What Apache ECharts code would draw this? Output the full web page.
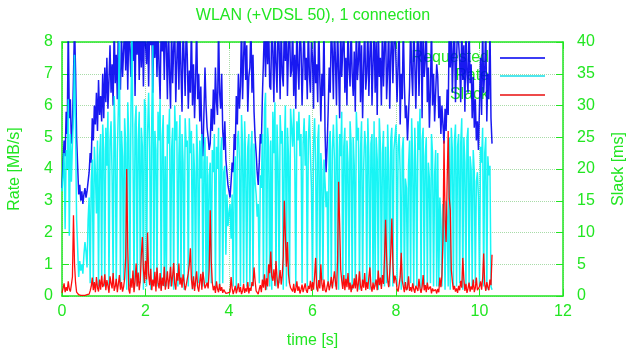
<!DOCTYPE html>
<html lang="en">

<head>
    <meta charset="UTF-8">
    <title>WLAN (+VDSL 50), 1 connection</title>
    <script src="https://cdn.jsdelivr.net/npm/echarts@6/dist/echarts.min.js"></script>
    <style>
        html, body { margin: 0; padding: 0; background: #fff; }
        #chart { width: 626px; height: 350px; }
    </style>
</head>

<body>
    <div id="chart"></div>
    <script>
        // one sample every 0.025 s, starting at t = 0 (one row = 0.5 s)
        var sampleStep = 0.025;

        // Requested rate [MB/s]
        var requested = [
            3.4, 4.2, 4.9, 4.4, 5.8, 5.1, 8.6, 5.6, 6.2, 4.8, 5.3, 6.9, 8.6, 7.1, 5.0, 4.1, 3.2, 3.5, 3.0, 3.3,
            2.9, 3.2, 3.4, 3.1, 3.3, 3.6, 3.9, 4.5, 4.2, 5.6, 4.9, 6.0, 5.4, 6.4, 5.2, 6.8, 5.7, 6.3, 5.5, 7.0,
            5.6, 7.2, 6.1, 7.5, 5.9, 6.8, 7.9, 6.4, 7.3, 6.0, 8.6, 6.7, 7.6, 6.2, 8.6, 7.0, 6.5, 8.3, 6.9, 7.7,
            8.6, 7.1, 8.6, 6.5, 8.6, 7.8, 6.9, 8.6, 7.4, 8.6, 6.3, 8.6, 7.6, 8.6, 6.8, 8.6, 7.2, 8.6, 6.6, 8.6,
            8.6, 7.3, 8.6, 6.6, 8.6, 7.9, 8.6, 6.4, 8.6, 7.5, 8.6, 6.9, 8.6, 7.2, 6.2, 8.6, 7.7, 8.6, 6.8, 8.6,
            7.9, 6.2, 8.6, 7.0, 5.9, 8.6, 6.7, 7.8, 8.6, 6.1, 7.4, 8.6, 6.5, 8.6, 7.1, 5.8, 8.6, 7.5, 6.3, 8.6,
            7.6, 5.9, 7.1, 6.4, 8.6, 6.0, 7.3, 5.6, 6.8, 8.6, 6.2, 7.0, 5.5, 6.6, 5.1, 4.4, 5.8, 7.2, 6.0, 5.3,
            5.0, 4.6, 4.8, 5.9, 5.2, 6.5, 5.4, 7.2, 6.1, 5.7, 8.6, 6.4, 5.9, 7.0, 5.2, 4.6, 5.5, 4.3, 3.9, 3.5,
            3.3, 3.1, 3.6, 4.2, 3.9, 5.1, 4.6, 6.3, 5.4, 7.0, 5.9, 6.6, 8.6, 6.2, 7.5, 8.6, 6.8, 7.9, 5.8, 6.9,
            7.2, 8.6, 6.4, 7.6, 5.8, 5.0, 4.5, 3.9, 3.5, 4.2, 5.1, 4.8, 6.3, 7.4, 8.6, 6.9, 8.6, 7.3, 8.6, 6.6,
            6.5, 8.6, 7.7, 6.1, 8.6, 7.3, 6.4, 8.6, 7.9, 6.2, 8.6, 7.0, 6.6, 8.6, 7.4, 8.6, 6.3, 7.8, 8.6, 6.9,
            7.1, 8.6, 6.3, 7.6, 5.9, 8.6, 7.2, 6.5, 8.6, 7.8, 6.0, 7.4, 8.6, 6.8, 7.5, 6.2, 8.6, 7.0, 6.4, 8.0,
            7.5, 5.9, 8.6, 6.7, 7.3, 6.1, 8.6, 6.9, 5.5, 7.0, 6.3, 8.6, 5.2, 3.9, 4.7, 5.8, 7.2, 6.4, 8.6, 7.7,
            6.2, 8.6, 7.4, 6.0, 8.6, 7.1, 5.6, 8.6, 6.9, 7.8, 8.6, 6.4, 7.5, 6.0, 8.6, 7.2, 6.6, 8.6, 7.0, 6.3,
            7.7, 5.8, 8.6, 6.8, 7.4, 8.6, 6.1, 7.9, 5.6, 7.2, 8.6, 6.5, 7.0, 8.6, 6.3, 7.6, 8.6, 6.0, 7.3, 8.6,
            6.4, 8.0, 5.7, 8.6, 6.9, 7.5, 6.0, 8.6, 6.6, 7.8, 8.6, 6.2, 7.1, 8.6, 5.9, 7.6, 8.6, 6.7, 7.9, 8.6,
            8.6, 6.1, 7.3, 8.6, 5.4, 7.0, 6.2, 8.6, 6.7, 5.6, 6.0, 4.9, 5.7, 6.6, 8.6, 7.1, 6.3, 8.6, 7.4, 5.9,
            7.6, 8.6, 6.3, 7.8, 8.6, 5.6, 8.6, 6.9, 7.4, 8.6, 6.1, 7.2, 5.3, 6.5, 8.6, 6.0, 7.0, 5.5, 6.4, 7.3,
            6.9, 5.6, 6.3, 5.1, 6.0, 5.4, 4.8, 5.9, 5.2, 6.5, 5.7, 8.6, 7.2, 8.6, 6.4, 7.7, 8.6, 6.1, 7.4, 8.6,
            8.6, 7.4, 6.1, 8.6, 6.8, 7.9, 5.8, 8.6, 7.0, 6.4, 8.6, 6.7, 7.3, 5.6, 6.9, 5.3, 6.2, 4.9, 5.5, 4.6,
            6.0, 7.5, 5.7, 8.6, 6.4, 7.1, 8.6, 5.5, 7.0, 6.2, 8.6, 5.6, 4.8
        ];

        // achieved rate [MB/s]
        var rate = [
            3.3, 3.8, 4.5, 2.1, 4.6, 4.0, 6.2, 1.9, 5.1, 3.6, 4.8, 5.7, 7.6, 5.2, 2.4, 1.5, 0.6, 1.1, 0.8, 1.0,
            0.7, 1.3, 1.7, 1.4, 0.9, 2.4, 3.1, 0.4, 3.6, 4.3, 0.3, 4.7, 3.9, 2.6, 4.9, 0.3, 4.4, 5.1, 0.5, 5.4,
            4.6, 0.3, 5.3, 4.1, 5.8, 0.2, 4.9, 5.5, 3.8, 0.4, 6.3, 5.0, 0.3, 4.5, 5.9, 8.6, 0.3, 5.2, 4.4, 0.5,
            5.6, 4.8, 0.2, 6.1, 5.0, 0.3, 5.7, 8.6, 4.6, 0.2, 5.4, 6.0, 0.3, 4.9, 5.8, 0.4, 5.3, 4.7, 0.2, 6.2,
            5.9, 0.3, 5.1, 6.4, 4.7, 0.2, 5.6, 7.9, 0.4, 5.2, 4.6, 0.3, 5.8, 4.9, 6.2, 0.2, 5.0, 5.7, 0.3, 4.4,
            0.3, 5.4, 4.8, 5.9, 0.3, 4.6, 5.3, 0.2, 6.0, 4.9, 5.5, 0.3, 4.4, 5.7, 0.4, 5.1, 4.2, 0.2, 5.6, 4.7,
            4.9, 0.3, 5.6, 4.5, 5.2, 0.2, 4.8, 3.9, 0.3, 5.4, 4.3, 0.4, 4.9, 3.7, 5.1, 0.3, 4.2, 5.0, 0.4, 4.4,
            0.3, 3.8, 4.2, 0.4, 4.6, 3.9, 5.1, 0.3, 4.7, 4.0, 5.3, 0.2, 4.5, 5.0, 0.4, 3.9, 4.1, 1.3, 3.2, 2.2,
            2.6, 2.9, 1.8, 3.2, 0.3, 3.9, 4.4, 0.2, 4.9, 5.2, 4.3, 0.3, 5.7, 4.8, 0.4, 5.5, 4.2, 0.3, 4.7, 5.1,
            0.3, 4.6, 5.2, 0.3, 4.8, 3.6, 3.2, 2.5, 2.9, 0.4, 3.8, 3.4, 5.1, 0.3, 5.9, 6.4, 0.2, 5.3, 4.7, 0.3,
            4.9, 0.2, 5.8, 4.5, 6.1, 0.3, 5.4, 4.2, 0.4, 5.7, 4.8, 5.2, 0.2, 4.6, 6.0, 0.3, 5.3, 4.4, 0.4, 5.9,
            5.3, 4.7, 5.9, 4.3, 0.3, 5.5, 4.9, 5.8, 4.4, 5.1, 0.4, 4.8, 5.6, 4.1, 5.2, 0.3, 4.9, 5.7, 4.5, 3.4,
            0.3, 4.8, 5.6, 4.2, 0.2, 4.9, 5.4, 0.3, 4.5, 3.9, 0.5, 4.3, 3.6, 2.8, 3.3, 0.3, 4.9, 5.2, 0.3, 4.6,
            5.4, 4.3, 0.3, 5.7, 4.6, 0.2, 5.1, 4.4, 5.8, 0.3, 4.7, 5.3, 0.4, 4.9, 4.2, 0.3, 5.5, 4.8, 0.2, 5.0,
            4.1, 0.3, 5.8, 4.9, 5.3, 0.2, 4.6, 5.5, 0.3, 4.0, 5.2, 4.7, 0.3, 5.6, 4.4, 0.2, 4.8, 5.1, 0.4, 5.5,
            0.3, 5.0, 4.3, 0.2, 5.6, 4.8, 0.3, 4.5, 5.2, 0.3, 4.7, 0.4, 5.4, 4.1, 0.3, 4.9, 5.3, 0.3, 4.6, 5.0,
            5.4, 0.3, 4.7, 5.1, 3.9, 0.2, 4.6, 5.0, 0.3, 3.7, 3.4, 0.2, 4.1, 4.9, 0.4, 5.6, 4.2, 0.3, 5.3, 4.0,
            0.3, 5.5, 4.6, 5.9, 0.2, 4.9, 5.3, 0.3, 4.4, 5.0, 0.3, 4.2, 3.7, 0.4, 5.1, 4.5, 0.3, 3.8, 4.6, 0.3,
            4.5, 0.3, 3.1, 2.4, 0.3, 2.9, 2.2, 0.2, 3.0, 2.5, 0.3, 5.0, 0.2, 5.3, 4.6, 0.3, 4.9, 5.4, 0.3, 4.7,
            5.1, 0.4, 4.8, 5.6, 0.2, 5.0, 4.2, 0.3, 4.9, 5.3, 0.3, 4.4, 4.0, 0.3, 4.6, 3.9, 0.4, 3.6, 3.9, 3.1,
            0.3, 4.7, 4.2, 5.3, 0.3, 4.5, 5.0, 0.2, 4.4, 3.8, 4.1, 0.3, 0.2
        ];

        // slack [ms], right axis
        var slack = [
            0.5, 1.2, 2.0, 0.6, 1.4, 0.8, 2.3, 1.1, 0.7, 1.8, 3.0, 12.7, 5.0, 2.1, 0.6, 0.3, 0.2, 0.2, 0.1, 0.2,
            0.1, 0.1, 0.1, 0.1, 0.2, 0.1, 0.3, 0.8, 1.5, 2.9, 0.9, 2.2, 0.6, 3.0, 1.3, 0.7, 2.6, 1.0, 3.2, 1.4,
            1.8, 3.4, 0.9, 2.5, 1.6, 0.5, 3.1, 2.0, 1.2, 3.6, 0.8, 1.5, 2.7, 0.6, 1.9, 3.3, 1.0, 2.2, 0.7, 1.4,
            2.7, 6.0, 20.0, 7.5, 1.0, 0.4, 2.8, 1.3, 4.0, 0.6, 2.2, 5.1, 1.5, 3.7, 0.9, 2.5, 6.5, 9.3, 4.2, 2.0,
            5.5, 2.6, 10.0, 3.4, 1.7, 4.3, 0.9, 2.6, 1.5, 3.8, 0.7, 4.5, 2.1, 1.2, 3.6, 0.8, 2.9, 1.6, 4.6, 1.0,
            2.3, 3.9, 1.1, 2.7, 4.6, 1.5, 3.2, 5.2, 2.0, 1.0, 3.6, 2.4, 5.1, 1.8, 2.9, 1.3, 3.4, 2.2, 0.9, 1.7,
            1.8, 3.6, 5.0, 7.5, 2.6, 1.1, 3.1, 0.8, 2.4, 3.9, 1.4, 0.7, 2.2, 3.5, 1.0, 3.8, 2.5, 1.2, 0.9, 2.1,
            1.2, 4.0, 13.5, 5.5, 2.1, 0.9, 1.6, 0.5, 2.3, 1.1, 0.6, 1.9, 0.8, 1.4, 0.5, 1.0, 0.7, 0.4, 0.3, 0.5,
            0.4, 0.6, 3.0, 1.2, 0.3, 0.9, 1.6, 0.4, 1.1, 2.0, 0.6, 1.4, 0.3, 0.8, 1.9, 0.5, 1.2, 0.7, 2.2, 0.4,
            1.3, 0.8, 2.2, 1.6, 4.5, 2.4, 0.8, 0.5, 0.3, 1.1, 1.7, 0.6, 2.6, 1.3, 3.4, 0.9, 2.8, 1.5, 5.0, 3.6,
            7.0, 3.1, 2.4, 4.2, 1.6, 5.5, 3.0, 1.2, 2.7, 4.1, 1.8, 3.3, 6.2, 15.0, 9.5, 4.6, 8.5, 3.4, 2.0, 1.3,
            1.4, 0.7, 1.9, 0.5, 1.1, 2.3, 0.8, 1.5, 0.4, 1.0, 1.8, 0.6, 1.3, 2.0, 0.9, 0.5, 1.6, 1.1, 2.4, 0.8,
            2.2, 1.0, 3.1, 6.0, 1.4, 0.7, 2.5, 1.2, 5.0, 1.9, 0.8, 2.6, 1.0, 0.6, 1.5, 2.3, 0.9, 1.7, 3.0, 1.2,
            1.5, 3.9, 2.2, 1.0, 5.5, 18.0, 11.5, 4.2, 2.4, 1.1, 3.3, 0.9, 2.7, 1.4, 3.6, 1.0, 2.1, 0.6, 1.8, 1.2,
            2.8, 1.2, 3.4, 0.7, 2.0, 3.9, 1.5, 0.8, 2.6, 1.3, 3.6, 0.9, 2.2, 1.1, 3.0, 4.5, 1.6, 0.7, 2.1, 1.0,
            1.3, 2.6, 0.9, 4.0, 1.7, 2.9, 1.1, 3.3, 1.9, 6.0, 12.0, 6.2, 2.5, 1.4, 3.7, 6.8, 12.2, 5.1, 2.0, 3.2,
            2.5, 1.1, 0.7, 1.8, 3.0, 6.8, 2.4, 1.5, 0.6, 2.2, 0.9, 1.3, 3.1, 0.8, 1.4, 0.7, 2.0, 1.1, 0.5, 1.6,
            1.9, 0.8, 2.7, 1.2, 0.5, 1.4, 3.3, 0.9, 1.7, 0.6, 2.1, 1.0, 0.7, 1.5, 0.4, 1.2, 0.8, 0.5, 1.0, 0.4,
            1.1, 0.6, 2.9, 1.4, 3.2, 9.0, 24.5, 12.0, 8.5, 18.0, 26.0, 15.5, 13.5, 4.1, 2.3, 1.0, 1.6, 0.7, 1.2, 0.5,
            1.6, 0.9, 2.4, 1.3, 6.0, 2.7, 0.8, 1.9, 0.5, 1.2, 2.1, 0.7, 1.5, 1.0, 2.6, 0.6, 1.3, 2.9, 0.9, 0.7,
            1.5, 2.3, 1.0, 2.8, 6.7, 1.9, 0.8, 2.2, 1.4, 0.9, 2.6, 1.7, 6.5
        ];

        var green = '#22e622';
        var gridGreen = '#a8dca8';
        var font = 'Liberation Sans, Arial, sans-serif';
        var fs = 16;

        function pairs(arr) {
            return arr.map(function (v, i) {
                return [+(i * sampleStep).toFixed(3), v];
            });
        }

        // gnuplot style key: text on the left, line sample on the right
        function legendItem(name, color, top) {
            return {
                data: [{ name: name, itemStyle: { color: color, opacity: 1, borderWidth: 0, decal: 'none' } }],
                orient: 'vertical',
                align: 'right',
                right: 81,
                top: top,
                padding: 0,
                z: 0,
                icon: 'rect',
                itemWidth: 45,
                itemHeight: 2,
                itemGap: 0,
                selectedMode: false,
                textStyle: { color: green, fontSize: fs, fontFamily: font, padding: [0, 6, 0, 0] }
            };
        }

        var myChart = echarts.init(document.getElementById('chart'));
        myChart.setOption({
            animation: false,
            backgroundColor: '#ffffff',
            title: {
                text: 'WLAN (+VDSL 50), 1 connection',
                left: 'center',
                top: 3,
                textStyle: { color: green, fontSize: fs, fontWeight: 'normal', fontFamily: font }
            },
            legend: [
                legendItem('Requested', '#3c3cf4', 50),
                legendItem('Rate', '#4ee6ee', 68),
                legendItem('Slack', '#ee4a4a', 87)
            ],
            grid: { left: 62, right: 63, top: 42, bottom: 54, containLabel: false, outerBoundsMode: 'none' },
            xAxis: [{
                type: 'value',
                min: 0,
                max: 12,
                interval: 2,
                name: 'time [s]',
                nameLocation: 'middle',
                nameGap: 37,
                nameTextStyle: { color: green, fontSize: fs, fontFamily: font },
                axisLine: { onZero: false, lineStyle: { color: green, width: 1.5 } },
                axisTick: { inside: true, length: 7, lineStyle: { color: green } },
                axisLabel: { color: green, fontSize: fs, fontFamily: font, margin: 8 },
                splitLine: { show: true, lineStyle: { color: gridGreen, type: 'dotted' } }
            }, {
                type: 'value',
                position: 'top',
                min: 0,
                max: 12,
                interval: 2,
                axisLine: { onZero: false, lineStyle: { color: green, width: 1.5 } },
                axisTick: { inside: true, length: 7, lineStyle: { color: green } },
                axisLabel: { show: false },
                splitLine: { show: false }
            }],
            yAxis: [{
                type: 'value',
                min: 0,
                max: 8,
                interval: 1,
                name: 'Rate [MB/s]',
                nameLocation: 'middle',
                nameGap: 39,
                nameTextStyle: { color: green, fontSize: fs, fontFamily: font },
                axisLine: { show: true, onZero: false, lineStyle: { color: green, width: 1.5 } },
                axisTick: { show: true, inside: true, length: 7, lineStyle: { color: green } },
                axisLabel: { color: green, fontSize: fs, fontFamily: font, margin: 9 },
                splitLine: { show: true, lineStyle: { color: gridGreen, type: 'dotted' } }
            }, {
                type: 'value',
                position: 'right',
                min: 0,
                max: 40,
                interval: 5,
                name: 'Slack [ms]',
                nameLocation: 'middle',
                nameGap: 48,
                nameRotate: 90,
                nameTextStyle: { color: green, fontSize: fs, fontFamily: font },
                axisLine: { show: true, onZero: false, lineStyle: { color: green, width: 1.5 } },
                axisTick: { show: true, inside: true, length: 7, lineStyle: { color: green } },
                axisLabel: { color: green, fontSize: fs, fontFamily: font, margin: 14 },
                splitLine: { show: false }
            }],
            series: [{
                name: 'Requested',
                type: 'line',
                showSymbol: false,
                symbol: 'none',
                color: '#2020f0',
                lineStyle: { width: 1.5, color: '#0000f0', opacity: 0.9 },
                data: pairs(requested)
            }, {
                name: 'Rate',
                type: 'line',
                showSymbol: false,
                symbol: 'none',
                color: '#40eeee',
                lineStyle: { width: 1.5, color: '#00f4f4', opacity: 0.9 },
                data: pairs(rate)
            }, {
                name: 'Slack',
                type: 'line',
                yAxisIndex: 1,
                showSymbol: false,
                symbol: 'none',
                color: '#ee4040',
                lineStyle: { width: 1.3, color: '#ff0000', opacity: 0.95 },
                data: pairs(slack)
            }]
        });
    </script>
</body>

</html>
